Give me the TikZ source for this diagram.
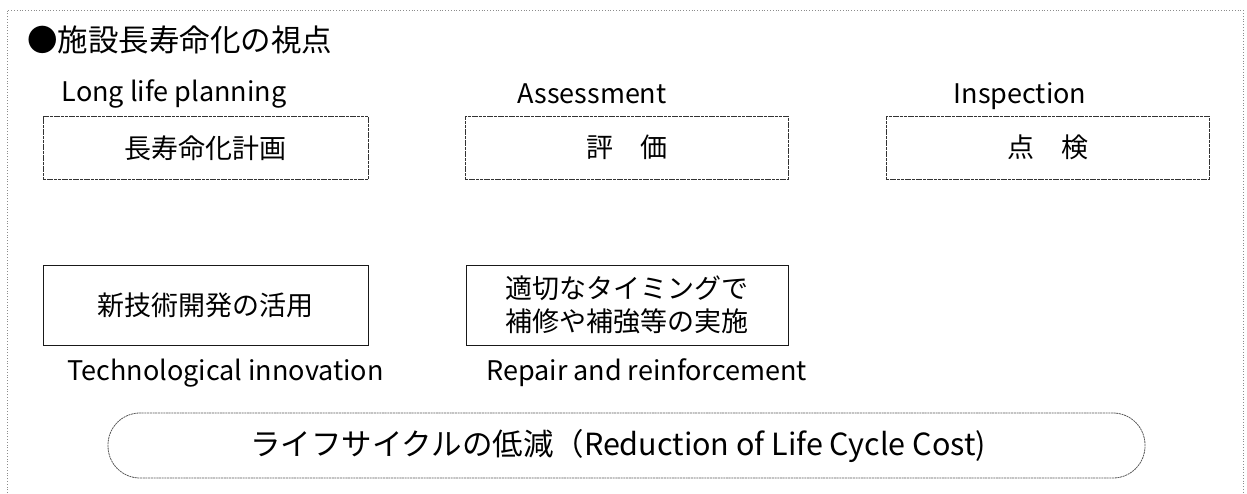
\documentclass[tikz,border=0pt]{standalone}
\usepackage{fontspec}
\setmainfont{Noto Sans CJK JP}
\begin{document}
\begin{tikzpicture}[x=1pt,y=-1pt,
  frame/.style={draw=black!45, line width=0.8pt, dotted},
  topbox/.style={draw=black!80, line width=0.9pt, dash pattern=on 3pt off 0.7pt,
    minimum height=63pt, inner sep=0pt, font=\fontsize{27}{33}\selectfont},
  botbox/.style={draw=black!90, line width=0.9pt,
    minimum height=80pt, inner sep=0pt, align=center, font=\fontsize{27}{33}\selectfont},
  englabel/.style={anchor=base, inner sep=0pt, font=\fontsize{27}{30}\selectfont},
  lccbox/.style={draw=black!65, line width=0.8pt, dash pattern=on 2pt off 0.7pt,
    rounded corners=32pt, minimum width=1037pt, minimum height=65pt, inner sep=0pt},
  lcctext/.style={inner sep=0pt, font=\fontsize{30.5}{33}\selectfont}]
\useasboundingbox (0,0) rectangle (1247,493);
\fill[white] (0,0) rectangle (1247,493);
% outer frame
\draw[frame] (7,493) -- (7,10) -- (1243,10) -- (1243,493);
% title
\node[anchor=west, inner sep=0pt, font=\fontsize{30.5}{33}\selectfont] (title) at (27,40) {●施設長寿命化の視点};
% top row
\node[englabel] (l1) at (174,101) {Long life planning};
\node[englabel] (l2) at (592,103) {Assessment};
\node[englabel] (l3) at (1020,103) {Inspection};
\node[topbox, minimum width=325pt] (b1) at (205.5,148) {長寿命化計画};
\node[topbox, minimum width=323pt] (b2) at (626.5,147.5) {評　価};
\node[topbox, minimum width=323pt] (b3) at (1047.5,147.5) {点　検};
% second row
\node[botbox, minimum width=325pt] (b4) at (205.5,305) {新技術開発の活用};
\node[botbox, minimum width=322pt] (b5) at (627,305) {適切なタイミングで\\補修や補強等の実施};
\node[englabel] (l4) at (225.5,380) {Technological innovation};
\node[englabel] (l5) at (646.5,380) {Repair and reinforcement};
% bottom
\node[lccbox] (lcc) at (626.5,445.5) {};
\node[lcctext] (lcct) at (618,446) {ライフサイクルの低減（Reduction of Life Cycle Cost)};
\end{tikzpicture}
\end{document}
